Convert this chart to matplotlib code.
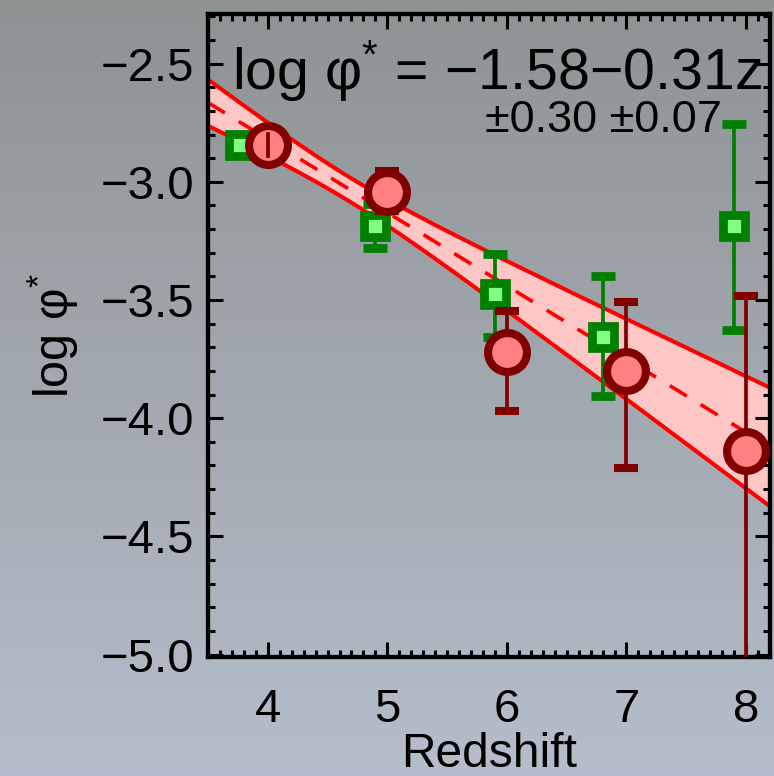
import numpy as np
import matplotlib
matplotlib.use("Agg")
import matplotlib.pyplot as plt
from matplotlib.ticker import MultipleLocator

plt.rcParams['font.family'] = ['Liberation Sans', 'DejaVu Sans']
plt.rcParams['mathtext.fontset'] = 'custom'
plt.rcParams['mathtext.rm'] = 'Liberation Sans'
plt.rcParams['mathtext.it'] = 'Liberation Sans'

# red circles
z_red = [4.0, 5.0, 6.0, 7.0, 8.0]
phi_red = [-2.845, -3.045, -3.72, -3.80, -4.14]
err_red_lo = [0.055, 0.08, 0.25, 0.41, 1.2]
err_red_hi = [0.055, 0.09, 0.175, 0.29, 0.655]

# green squares
z_green = [3.77, 4.9, 5.9, 6.8, 7.9]
phi_green = [-2.845, -3.185, -3.475, -3.655, -3.185]
err_green_lo = [0.03, 0.095, 0.18, 0.25, 0.44]
err_green_hi = [0.03, 0.09, 0.17, 0.255, 0.43]

# linear fit and its 1-sigma band
fit_a, fit_b = -1.58, -0.31
band_s0, band_s1, band_z0 = 0.051, 0.07, 4.69

fig = plt.figure(figsize=(7.74, 7.76), dpi=100)

# slide-like background gradient
bg = fig.add_axes([0, 0, 1, 1], zorder=-10)
top = np.array([142, 146, 147]) / 255
bot = np.array([181, 190, 204]) / 255
t = np.linspace(0, 1, 256)[:, None, None]
grad = top + (bot - top) * t
grad = np.repeat(grad, 4, axis=1)
bg.imshow(grad, aspect='auto', extent=[0, 1, 0, 1])
bg.axis('off')

ax = fig.add_axes([0.2687, 0.1534, 0.9948 - 0.2687, 0.982 - 0.1534])
ax.set_facecolor('none')

zz = np.linspace(3.5, 8.2, 200)
mid = fit_a + fit_b * zz
w = np.sqrt(band_s0**2 + band_s1**2 * (zz - band_z0)**2)
ax.fill_between(zz, mid - w, mid + w, color='#ffc6c6', lw=0, zorder=1)
ax.plot(zz, mid + w, color='red', lw=2.9, zorder=2)
ax.plot(zz, mid - w, color='red', lw=2.9, zorder=2)
ax.plot(zz, mid, color='red', lw=2.6, ls=(0, (5.5, 4.5)), zorder=2)

ax.errorbar(z_green, phi_green, yerr=[err_green_lo, err_green_hi], fmt='s',
            ms=16, mfc='#80ff80', mec='#008000', mew=6.3, ecolor='#008000',
            elinewidth=2.7, capsize=8.5, capthick=2.7, zorder=3)
ax.errorbar(z_red, phi_red, yerr=[err_red_lo, err_red_hi], fmt='o',
            ms=28, mfc='#ff8080', mec='#800000', mew=5.8, ecolor='#800000',
            elinewidth=2.7, capsize=8.5, capthick=2.7, zorder=4)
# the z=4 bar shows through its marker
ax.errorbar(z_red[:1], phi_red[:1], yerr=[err_red_lo[:1], err_red_hi[:1]],
            fmt='none', ecolor='#800000', elinewidth=2.7, capsize=0, zorder=5)

ax.set_xlim(3.5, 8.2)
ax.set_ylim(-5.01, -2.29)
ax.xaxis.set_major_locator(MultipleLocator(1))
ax.xaxis.set_minor_locator(MultipleLocator(0.1))
ax.yaxis.set_major_locator(MultipleLocator(0.5))
ax.yaxis.set_minor_locator(MultipleLocator(0.1))
ax.yaxis.set_major_formatter(plt.FuncFormatter(lambda v, p: f"{v:.1f}".replace('-', '\u2212')))
ax.tick_params(which='both', direction='in', top=True, right=True, width=2.2,
               labelsize=34, color='black')
ax.tick_params(which='major', length=11)
ax.tick_params(which='minor', length=5)
ax.tick_params(axis='x', pad=22)
ax.tick_params(axis='y', pad=10)
for s in ax.spines.values():
    s.set_linewidth(3.1)

ax.set_xlabel("Redshift", fontsize=34.5, labelpad=0)
ax.set_ylabel("log \u03c6$^{*}$", fontsize=35, labelpad=14)

ax.text(0.985, 0.884, "log \u03c6$^{*}$ = \u22121.58\u22120.31z", transform=ax.transAxes,
        ha='right', va='baseline', fontsize=41.2)
ax.text(0.915, 0.8165, "\u00b10.30 \u00b10.07", transform=ax.transAxes,
        ha='right', va='baseline', fontsize=32.5)

fig.savefig("out.png", dpi=100)
